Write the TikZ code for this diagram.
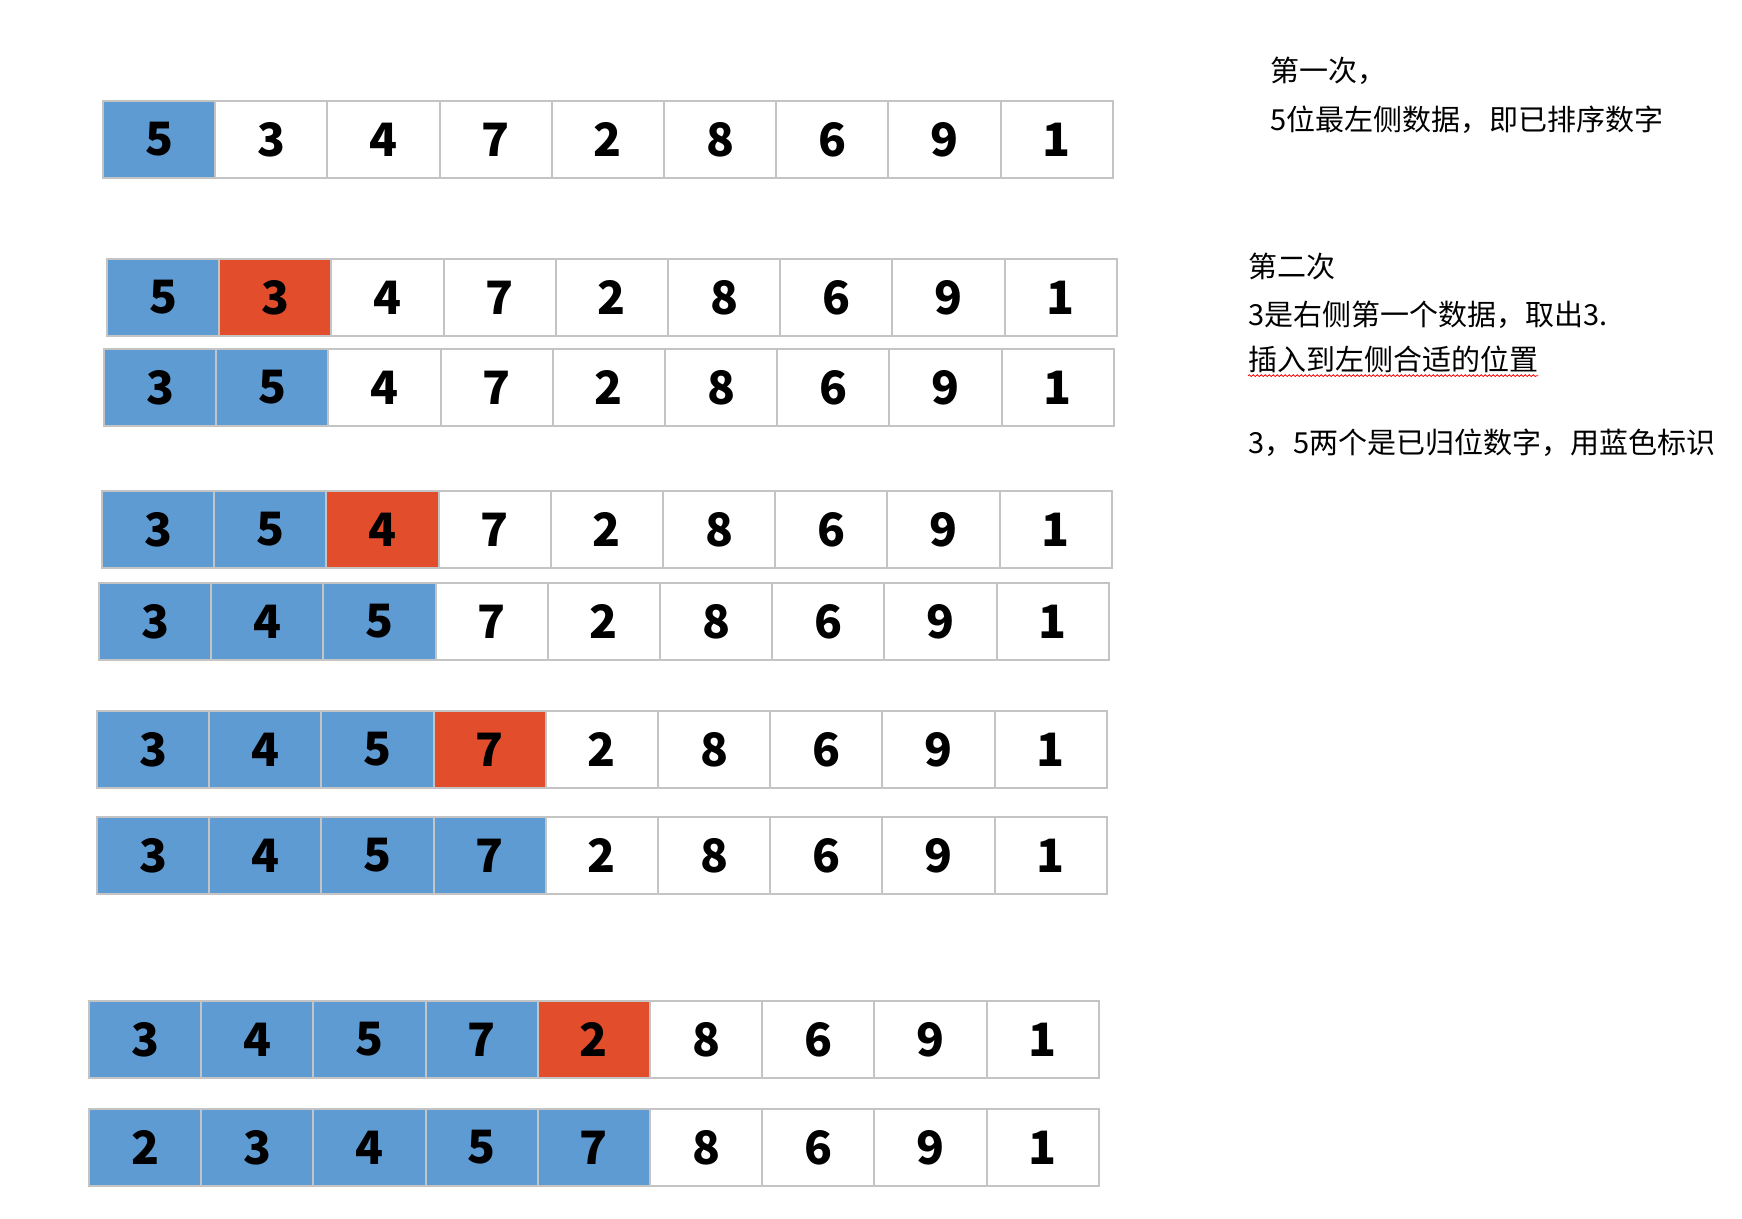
\documentclass[tikz,border=0pt]{standalone}
\usepackage{fontspec}
\setmainfont{Noto Sans CJK SC}
\usepackage{xcolor}
\usetikzlibrary{positioning,decorations.pathmorphing}

\definecolor{doneblue}{HTML}{5E9BD3}
\definecolor{pickred}{HTML}{E24D2C}
\definecolor{cellgray}{HTML}{C4C4C4}

\begin{document}
\begin{tikzpicture}[
  x=1pt, y=-1pt,
  cell/.style={draw=cellgray, line width=2pt, fill=white, minimum width=112.2pt,
    minimum height=77pt, inner sep=0pt, font=\fontsize{46}{52}\selectfont\bfseries},
  done/.style={cell, fill=doneblue},
  pick/.style={cell, fill=pickred},
  note/.style={anchor=west, inner sep=0pt, font=\fontsize{29}{34}\selectfont},
]
  \useasboundingbox (0,0) rectangle (1742,1218);

  % Rows: name / left / top / values / sorted count / picked cell
  \foreach \r/\x/\y/\vals/\nb/\rd in {
      1/103/101/{5,3,4,7,2,8,6,9,1}/1/0,
      2/107/259/{5,3,4,7,2,8,6,9,1}/1/2,
      3/104/349/{3,5,4,7,2,8,6,9,1}/2/0,
      4/102/491/{3,5,4,7,2,8,6,9,1}/2/3,
      5/99/583/{3,4,5,7,2,8,6,9,1}/3/0,
      6/97/711/{3,4,5,7,2,8,6,9,1}/3/4,
      7/97/817/{3,4,5,7,2,8,6,9,1}/4/0,
      8/89/1001/{3,4,5,7,2,8,6,9,1}/4/5,
      9/89/1109/{2,3,4,5,7,8,6,9,1}/5/0}{
    \foreach \v [count=\c] in \vals {
      \ifnum\c=\rd \def\sty{pick}\else\ifnum\c>\nb \def\sty{cell}\else\def\sty{done}\fi\fi
      \node[\sty] (r\r c\c) at ({\x+(\c-0.5)*112.2},{\y+38.5}) {\v};
    }
  }

  % First pass notes
  \node[note] (n1a) at (1270,71) {第一次，};
  \node[note] (n1b) at (1270,120) {5位最左侧数据，即已排序数字};

  % Second pass notes
  \node[note] (n2a) at (1248,266) {第二次};
  \node[note] (n2b) at (1248,315) {3是右侧第一个数据，取出3.};
  \node[note] (n2c) at (1248,359) {插入到左侧合适的位置};
  \node[note] (n2d) at (1248,443) {3，5两个是已归位数字，用蓝色标识};

  % spell-check underline
  \draw[red, line width=0.8pt, decorate, decoration={snake, amplitude=0.9pt, segment length=4pt}]
    ([yshift=-3pt]n2c.south west) -- ([yshift=-3pt]n2c.south east);
\end{tikzpicture}
\end{document}
